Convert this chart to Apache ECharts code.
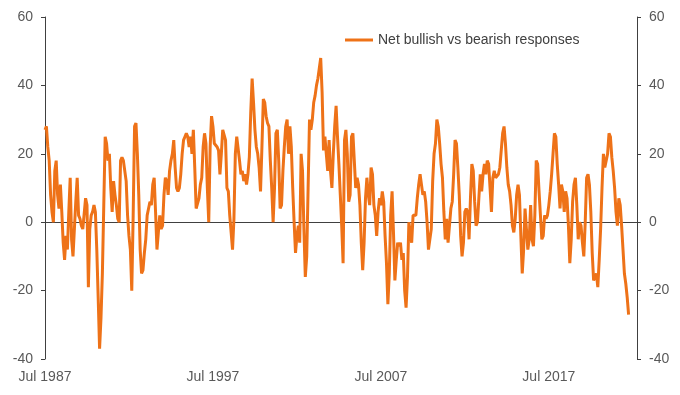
<!DOCTYPE html>
<html>
<head>
<meta charset="utf-8">
<script src="https://cdn.jsdelivr.net/npm/echarts@6/dist/echarts.min.js"></script>
<style>html,body{margin:0;padding:0;background:#fff}#c{width:680px;height:395px}</style>
</head>
<body>
<div id="c"></div>
<script>
// Monthly series, first point = Jul 1987
var startYear = 1987;
var seriesName = 'Net bullish vs bearish responses';
var yTicks = [-40, -20, 0, 20, 40, 60];
var xTickYears = [1987, 1997, 2007, 2017];
var netBullish = [
  27,28,22,18,8,3,0,15,18,8, 4,11,3,-6,-11,-4,-8,3,13,-5,
  -10,-2,6,13,2,1,-1,-2,-2,7, 5,-19,-2,2,3,5,3,-8,-22,-37,
  -28,-15,5,25,23,18,20,10,3,12, 8,5,1,0,
  18,19,18,18,12,2,-4,-8,-20,2, 28,29,20,8,-8,-15,-14,-9,-5,2,
  4,6,5,11,13,3,-8,-3,2,-2, -1,8,13,12,8,15,18,20,24,16,
  10,9,10,14,20,24,25,26,25,22, 25,20,27,16,
  4,4,7,11,13,22,26,23,10,0, 22,31,28,23,23,22,21,14,20,27,
  27,24,10,9,2,-3,-8,1,20,25, 25,18,14,15,12,14,11,14,19,32,
  42,35,27,22,20,16,9,22,36,35, 31,29,28,
  18,10,0,10,26,27,18,4,5,15, 22,28,30,20,28,22,10,0,-9,-4,
  -1,-6,20,15,-2,-16,-10,10,30,27, 30,35,37,40,42,45,48,38,21,25,
  20,15,24,15,10,20,28,34,25,17, 8,-1,-12,24,
  27,20,6,8,25,26,18,10,13,11, 5,-6,-14,-6,7,13,8,5,16,14,
  5,2,-4,3,7,5,9,6,-4,-12, -24,-15,2,9,-3,-17,-11,-6,-7,-6,
  -11,-9,-20,-25,-16,0,0,-6,2,2, 2,7,11,
  14,11,8,9,6,0,-8,-8,-2,12, 20,23,30,28,23,17,13,3,-5,1,
  -6,-6,4,6,14,24,23,16,8,-4, -10,-6,3,4,3,-5,7,17,15,6,
  -1,0,7,14,9,14,17,14,18,17, 10,3,13,15,
  13,13,14,16,21,26,28,23,16,11, 9,5,-1,-3,1,8,11,8,-4,-15,
  -8,4,-2,-8,-5,5,-5,-7,2,18, 17,9,2,-5,-4,2,1,2,5,9,
  14,20,26,25,17,11,4,11,9,3, 9,7,-1,-12,
  -5,6,11,13,5,-5,0,-1,-6,-10, 0,13,14,11,3,-9,-17,-17,-15,-19,
  -11,-2,10,20,16,16,20,26,25,19, 15,10,3,-1,7,5,-1,-8,-15,-18,
  -22,-27
];
var points = netBullish.map(function (v, i) { return [i / 12, v]; });

var chart = echarts.init(document.getElementById('c'), null, {renderer: 'canvas'});
var axisColor = '#404040';
var labelStyle = {color: '#595959', fontFamily: 'Liberation Sans, Arial, sans-serif', fontSize: 14};
function yAxis(pos) {
  return {
    type: 'value', position: pos, min: yTicks[0], max: yTicks[yTicks.length - 1], interval: 20,
    axisLine: {show: true, lineStyle: {color: axisColor, width: 1}},
    axisTick: {show: true, length: 4, lineStyle: {color: axisColor}},
    splitLine: {show: false},
    axisLabel: Object.assign({margin: 12}, labelStyle)
  };
}
chart.setOption({
  animation: false,
  backgroundColor: '#fff',
  grid: {left: 45, right: 43, top: 17, bottom: 36},
  legend: {
    data: [seriesName], left: 340, top: 28, icon: 'rect', itemWidth: 28, itemHeight: 3, itemGap: 5,
    textStyle: {color: '#404040', fontFamily: 'Liberation Sans, Arial, sans-serif', fontSize: 14}
  },
  xAxis: {
    type: 'value', min: 0, max: 35.25, interval: 10,
    axisLine: {show: false}, axisTick: {show: false}, splitLine: {show: false},
    axisLabel: Object.assign({margin: 11, showMaxLabel: false,
      formatter: function (v) { return xTickYears.indexOf(startYear + Math.round(v)) >= 0 ? 'Jul ' + (startYear + Math.round(v)) : ''; }
    }, labelStyle)
  },
  yAxis: [yAxis('left'), yAxis('right')],
  series: [{
    name: seriesName, type: 'line', data: points, showSymbol: false, symbol: 'none',
    lineStyle: {color: '#EE7218', width: 3}, itemStyle: {color: '#EE7218'},
    z: 3,
    markLine: {
      silent: true, symbol: 'none', label: {show: false},
      lineStyle: {color: axisColor, width: 1, type: 'solid'},
      data: [{yAxis: 0}], z: 2
    }
  }]
});
</script>
</body>
</html>
